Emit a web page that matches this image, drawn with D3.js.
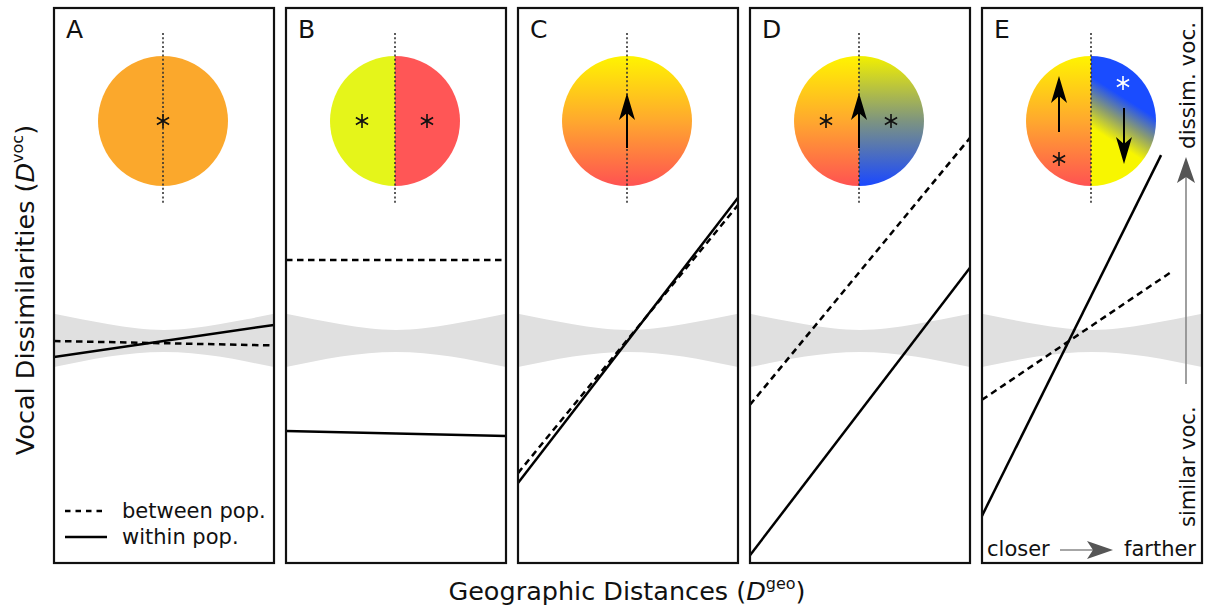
<!DOCTYPE html>
<html>
<head>
<meta charset="utf-8">
<script src="https://cdn.jsdelivr.net/npm/d3@7/dist/d3.min.js"></script>
<style>
  html, body { margin: 0; padding: 0; background: #fff; }
  svg { display: block; font-family: "DejaVu Sans", sans-serif; }
</style>
</head>
<body>
<svg id="chart" width="1205" height="610"></svg>
<script>
// Scenario panels and their regression lines (x: 0..1 across a panel, y: 0..100 vocal dissimilarity)
const panelLabels = ["A", "B", "C", "D", "E"];
const betweenStart = [40.0, 54.6, 16.2, 28.5, 29.4];
const betweenEnd   = [39.2, 54.6, 64.5, 76.6, 52.3];
const betweenEndX  = [1, 1, 1, 1, 0.855];
const withinStart  = [37.1, 23.8, 14.4, 1.4, 8.5];
const withinEnd    = [42.9, 22.9, 65.8, 53.2, 73.5];
const withinEndX   = [1, 1, 1, 1, 0.814];

// Grey reference band (hourglass envelope)
const bandX     = [0, 0.125, 0.25, 0.375, 0.5, 0.625, 0.75, 0.875, 1];
const bandUpper = [44.9, 43.9, 43.0, 42.3, 42.0, 42.3, 43.0, 43.9, 44.9];
const bandLower = [35.3, 36.3, 37.2, 37.8, 38.0, 37.8, 37.2, 36.3, 35.3];

// Legend entries
const legendLabels = ["between pop.", "within pop."];

const svg = d3.select("#chart");
const panelW = 220, gap = 12, firstLeft = 54;
const frameTop = 8, frameBottom = 563;
const y = d3.scaleLinear().domain([0, 100]).range([frameBottom, frameTop]);
const nP = panelLabels.length;
const panelX = d3.scaleBand().domain(panelLabels)
  .range([firstLeft, firstLeft + nP * panelW + (nP - 1) * gap])
  .paddingInner(gap / (panelW + gap)).paddingOuter(0).align(0);

const defs = svg.append("defs");
function vgrad(id, stops) {
  const g = defs.append("linearGradient").attr("id", id)
    .attr("x1", 0).attr("y1", 0).attr("x2", 0).attr("y2", 1);
  stops.forEach(s => g.append("stop").attr("offset", s[0]).attr("stop-color", s[1]));
}
vgrad("warm", [[0, "#fff400"], [0.5, "#ffa82e"], [1, "#ff5252"]]);
vgrad("coolD", [[0, "#f2f000"], [0.5, "#7d9480"], [1, "#1a48ff"]]);
const ge = defs.append("linearGradient").attr("id", "coolE")
  .attr("gradientUnits", "userSpaceOnUse")
  .attr("x1", 1111).attr("y1", 140).attr("x2", 1134).attr("y2", 104);
[[0, "#f8f600"], [0.5, "#8a9c70"], [1, "#1a4cff"]].forEach(s =>
  ge.append("stop").attr("offset", s[0]).attr("stop-color", s[1]));

panelLabels.forEach((lab, i) => {
  const left = panelX(lab), w = panelX.bandwidth();
  const x = d3.scaleLinear().domain([0, 1]).range([left, left + w]);
  const g = svg.append("g");
  const clipId = "clip" + lab;
  defs.append("clipPath").attr("id", clipId)
    .append("rect").attr("x", left).attr("y", frameTop).attr("width", w).attr("height", frameBottom - frameTop);

  // grey band
  const area = d3.area().x(d => x(d[0])).y0(d => y(d[1])).y1(d => y(d[2])).curve(d3.curveNatural);
  g.append("path").datum(bandX.map((bx, k) => [bx, bandLower[k], bandUpper[k]]))
    .attr("d", area).attr("fill", "#e0e0e0").attr("clip-path", `url(#${clipId})`);

  // regression lines
  const line = d3.line().x(d => x(d[0])).y(d => y(d[1]));
  g.append("path").datum([[0, betweenStart[i]], [betweenEndX[i], betweenEnd[i]]])
    .attr("d", line).attr("fill", "none").attr("stroke", "#000").attr("stroke-width", 2.5)
    .attr("stroke-dasharray", "6.5,4.5").attr("clip-path", `url(#${clipId})`);
  g.append("path").datum([[0, withinStart[i]], [withinEndX[i], withinEnd[i]]])
    .attr("d", line).attr("fill", "none").attr("stroke", "#000").attr("stroke-width", 2.5)
    .attr("clip-path", `url(#${clipId})`);

  // frame
  g.append("rect").attr("x", left).attr("y", frameTop).attr("width", w).attr("height", frameBottom - frameTop)
    .attr("fill", "none").attr("stroke", "#111").attr("stroke-width", 2.2);

  // panel letter
  g.append("text").attr("x", left + 12).attr("y", 38).attr("font-size", 25).attr("fill", "#111").text(lab);
});

// population discs
const cy = 121, r = 65;
const cxs = panelLabels.map(l => panelX(l) + panelX.bandwidth() / 2 - 1);
const halfPath = (cx, side) =>
  `M${cx},${cy - r} A${r},${r} 0 0,${side < 0 ? 0 : 1} ${cx},${cy + r} Z`;
svg.append("circle").attr("cx", cxs[0]).attr("cy", cy).attr("r", r).attr("fill", "#fba82c");
svg.append("path").attr("d", halfPath(cxs[1], -1)).attr("fill", "#e5f51a");
svg.append("path").attr("d", halfPath(cxs[1], 1)).attr("fill", "#ff5656");
svg.append("circle").attr("cx", cxs[2]).attr("cy", cy).attr("r", r).attr("fill", "url(#warm)");
svg.append("path").attr("d", halfPath(cxs[3], -1)).attr("fill", "url(#warm)");
svg.append("path").attr("d", halfPath(cxs[3], 1)).attr("fill", "url(#coolD)");
svg.append("path").attr("d", halfPath(cxs[4], -1)).attr("fill", "url(#warm)");
svg.append("path").attr("d", halfPath(cxs[4], 1)).attr("fill", "url(#coolE)");

// dotted boundary lines
cxs.forEach(cx => {
  svg.append("line").attr("x1", cx).attr("x2", cx).attr("y1", 33).attr("y2", 205)
    .attr("stroke", "#333").attr("stroke-width", 1.6).attr("stroke-dasharray", "2,2.3");
});

// asterisks marking song centres
const star = d3.symbol(d3.symbolAsterisk, 140);
const stars = [[cxs[0], cy, "#111"], [cxs[1] - 33, cy, "#111"], [cxs[1] + 32, cy, "#111"],
               [cxs[3] - 33, cy, "#111"], [cxs[3] + 32, cy, "#111"],
               [cxs[4] - 32, 159, "#111"], [cxs[4] + 32, 83, "#fff"]];
stars.forEach(s => svg.append("path").attr("d", star())
  .attr("transform", `translate(${s[0]},${s[1]})`)
  .attr("fill", "none").attr("stroke", s[2]).attr("stroke-width", 1.6));

// black arrows showing the direction of vocal change
function arrow(x0, yTail, yTip) {
  const dir = yTip < yTail ? -1 : 1;
  const base = yTip - dir * 27, notch = yTip - dir * 20;
  svg.append("line").attr("x1", x0).attr("x2", x0).attr("y1", yTail).attr("y2", notch)
    .attr("stroke", "#000").attr("stroke-width", 2);
  svg.append("path").attr("d", `M${x0},${yTip} L${x0 - 8},${base} L${x0},${notch} L${x0 + 8},${base} Z`)
    .attr("fill", "#000");
}
arrow(cxs[2], 148, 93);
arrow(cxs[3], 148, 93);
arrow(cxs[4] - 32, 132, 76);
arrow(cxs[4] + 33, 108, 164);

// grey axis-direction arrows in panel E
function greyArrow(x1, y1, x2, y2) {
  const len = Math.hypot(x2 - x1, y2 - y1), ux = (x2 - x1) / len, uy = (y2 - y1) / len;
  const bx = x2 - ux * 26, by = y2 - uy * 26, nx = x2 - ux * 20, ny = y2 - uy * 20;
  svg.append("line").attr("x1", x1).attr("y1", y1).attr("x2", nx).attr("y2", ny)
    .attr("stroke", "#888").attr("stroke-width", 1.6);
  svg.append("path").attr("d",
    `M${x2},${y2} L${bx - uy * 9},${by + ux * 9} L${nx},${ny} L${bx + uy * 9},${by - ux * 9} Z`)
    .attr("fill", "#555");
}
greyArrow(1060, 550, 1113, 550);
greyArrow(1186, 384, 1186, 157);

svg.append("text").attr("x", 987).attr("y", 556).attr("font-size", 21).attr("fill", "#111").text("closer");
svg.append("text").attr("x", 1196).attr("y", 556).attr("text-anchor", "end")
  .attr("font-size", 21).attr("fill", "#111").text("farther");
svg.append("text").attr("transform", "translate(1195,149) rotate(-90)")
  .attr("font-size", 21.5).attr("fill", "#111").text("dissim. voc.");
svg.append("text").attr("transform", "translate(1195,527) rotate(-90)")
  .attr("font-size", 21).attr("fill", "#111").text("similar voc.");

// legend
const legY = [511, 537];
legendLabels.forEach((t, k) => {
  svg.append("line").attr("x1", 65).attr("x2", 107).attr("y1", legY[k]).attr("y2", legY[k])
    .attr("stroke", "#000").attr("stroke-width", 2.5)
    .attr("stroke-dasharray", k === 0 ? "5.5,5" : null);
  svg.append("text").attr("x", 122).attr("y", legY[k] + 7).attr("font-size", 21).attr("fill", "#111").text(t);
});

// axis titles
const yt = svg.append("text").attr("transform", "translate(34,290) rotate(-90)")
  .attr("text-anchor", "middle").attr("font-size", 25.5).attr("fill", "#111");
yt.append("tspan").text("Vocal Dissimilarities (");
yt.append("tspan").attr("font-style", "italic").text("D");
yt.append("tspan").attr("font-size", 16).attr("dy", -11).text("voc");
yt.append("tspan").attr("dy", 11).text(")");

const xt = svg.append("text").attr("x", 627).attr("y", 600)
  .attr("text-anchor", "middle").attr("font-size", 25.5).attr("fill", "#111");
xt.append("tspan").text("Geographic Distances (");
xt.append("tspan").attr("font-style", "italic").text("D");
xt.append("tspan").attr("font-size", 16).attr("dy", -11).text("geo");
xt.append("tspan").attr("dy", 11).text(")");
</script>
</body>
</html>
